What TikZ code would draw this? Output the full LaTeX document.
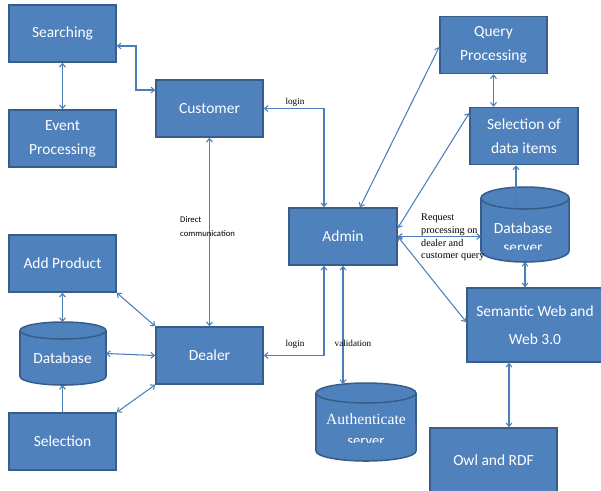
\documentclass[tikz,border=0pt]{standalone}
\usepackage{fontspec}
\setmainfont{Carlito}
\newfontfamily\serifrm{Liberation Serif}
\usetikzlibrary{arrows.meta}
\definecolor{boxfill}{HTML}{4F81BD}
\definecolor{boxline}{HTML}{385D8A}
\definecolor{linkcol}{HTML}{4A7EBB}
\begin{document}
\begin{tikzpicture}[x=0.03cm,y=-0.03cm,>={Straight Barb[length=3pt,width=5pt]},
    box/.style={draw=boxline,fill=boxfill,line width=1.3pt,text=white,align=center,
        font=\fontsize{13.2}{20.4}\selectfont,minimum width=3.21cm,minimum height=1.71cm,inner sep=0pt},
    cyl/.style={draw=boxline,fill=boxfill,line width=1.3pt},
    db/.style={inner sep=0pt,outer sep=0pt},
    dbtext/.style={text=white,inner sep=0pt,font=\fontsize{13.2}{16}\selectfont},
    link/.style={linkcol,line width=0.9pt},
    note/.style={inner sep=0pt,font=\serifrm\fontsize{7.8}{9}\selectfont}]
    \useasboundingbox (0,0) rectangle (601,490);
    % boxes
    \node[box] (search) at (62.5,33.5) {Searching};
    \node[box] (event) at (62.5,138.5) {Event\\Processing};
    \node[box] (cust) at (209.5,108.5) {Customer};
    \node[box] (query) at (493.5,45) {Query\\Processing};
    \node[box,minimum width=3.24cm] (items) at (524,136) {Selection of\\data items};
    \node[box,minimum width=3.24cm] (admin) at (343,236.5) {Admin};
    \node[box] (addprod) at (62.5,263.5) {Add Product};
    \node[box] (dealer) at (209.5,355.5) {Dealer};
    \node[box] (select) at (62.5,441.5) {Selection};
    \node[box,minimum width=4.08cm,minimum height=2.22cm,font=\fontsize{13.2}{24}\selectfont]
        (semweb) at (535,325) {Semantic Web and\\Web 3.0};
    \node[box,minimum width=3.81cm,minimum height=1.92cm] (owl) at (493.5,460) {Owl and RDF};
    % databases
    \filldraw[cyl] (20,330.5) -- (20,376.5) arc[start angle=180,end angle=360,x radius=1.29cm,y radius=0.255cm]
        -- (106,330.5) arc[start angle=0,end angle=180,x radius=1.29cm,y radius=0.255cm] -- cycle;
    \draw[cyl,fill=none] (20,330.5) arc[start angle=180,end angle=360,x radius=1.29cm,y radius=0.255cm];
    \node[db,minimum width=2.58cm,minimum height=1.89cm] (base) at (63,353.5) {};
    \node[dbtext,anchor=base] (basetxt) at (62.5,363) {Database};
    \filldraw[cyl] (481,198) -- (481,251) arc[start angle=180,end angle=360,x radius=1.32cm,y radius=0.33cm]
        -- (569,198) arc[start angle=0,end angle=180,x radius=1.32cm,y radius=0.33cm] -- cycle;
    \draw[cyl,fill=none] (481,198) arc[start angle=180,end angle=360,x radius=1.32cm,y radius=0.33cm];
    \node[db,minimum width=2.64cm,minimum height=2.25cm] (dbsrv) at (525,224.5) {};
    \node[dbtext,anchor=base] (dbsrvtxt) at (523,233) {Database};
    \begin{scope}
        \clip (480,240) rectangle (570,249.5);
        \node[dbtext,anchor=base] (dbsrvtxt2) at (523,252) {server};
    \end{scope}
    \filldraw[cyl] (316,393) -- (316,451) arc[start angle=180,end angle=360,x radius=1.5cm,y radius=0.3cm]
        -- (416,393) arc[start angle=0,end angle=180,x radius=1.5cm,y radius=0.3cm] -- cycle;
    \draw[cyl,fill=none] (316,393) arc[start angle=180,end angle=360,x radius=1.5cm,y radius=0.3cm];
    \node[db,minimum width=3.0cm,minimum height=2.34cm] (auth) at (366,422) {};
    \node[dbtext,anchor=base,font=\serifrm\fontsize{13.3}{16}\selectfont] (authtxt) at (366,424) {Authenticate};
    \begin{scope}
        \clip (320,430) rectangle (412,442.5);
        \node[dbtext,anchor=base,font=\fontsize{12.5}{15}\selectfont] (authtxt2) at (366,445) {server};
    \end{scope}
    \coordinate (srvtop) at (516,207);
    \coordinate (authtop) at (343,384);
    % links
    \draw[link,<->] (search) -- (event);
    \draw[link,<->] (search.east |- 0,46) -| (136,90) -- (cust.west |- 0,90);
    \draw[link,<->] (admin.north -| 324,0) |- (cust.east);
    \draw[link,<->] (cust) -- (dealer);
    \draw[link,<->] (admin.north -| 360,0) -- (query.west |- 0,47);
    \draw[link,<->] (admin.east |- 0,228) -- (items.west |- 0,113);
    \draw[link,<->] (admin.east) -- (admin.east -| dbsrv.west);
    \draw[link,<->] (admin.east) -- (semweb.west |- 0,322);
    \draw[link,<->] (query.south) -- (query.south |- items.north);
    \draw[link,<->] (items.south -| srvtop) -- (srvtop);
    \draw[link,<->] (dbsrv.south) -- (dbsrv.south |- semweb.north);
    \draw[link,<->] (semweb.south -| 509,0) -- (owl.north -| 509,0);
    \draw[link,<->] (dealer.east) -| (admin.south -| 324,0);
    \draw[link,<->] (admin.south) -- (authtop);
    \draw[link,<->] (addprod.south) -- (addprod.south |- base.north);
    \draw[link,<->] (addprod.south east) -- (dealer.north west);
    \draw[link,<->] (base.east) -- (dealer.west);
    \draw[link,<->] (select.north east) -- (dealer.south west);
    \draw[link,->] (select.north) -- (select.north |- base.south);
    % labels
    \node[note,anchor=base] (login1) at (295,104) {login};
    \node[note,anchor=base] (login2) at (295,346) {login};
    \node[note,anchor=base] (valid) at (353,346) {validation};
    \node[inner sep=0pt,anchor=north west,align=left,font=\fontsize{7.4}{11.9}\selectfont]
        (direct) at (180,216) {Direct\\communication};
    \node[inner sep=0pt,anchor=north west,align=left,font=\serifrm\fontsize{8.7}{10.8}\selectfont]
        (request) at (421,214) {Request\\processing on\\dealer and\\customer query};
\end{tikzpicture}
\end{document}
